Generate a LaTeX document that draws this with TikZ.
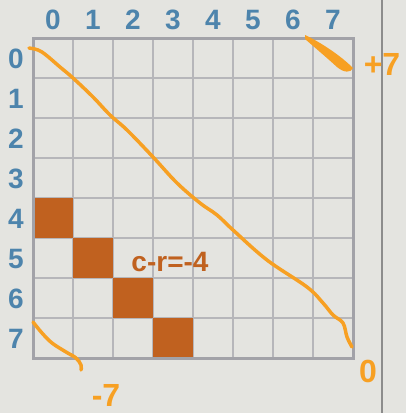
\documentclass[tikz,border=0pt]{standalone}
\usepackage{fontspec}
\setmainfont{Liberation Sans}
\definecolor{bg}{HTML}{E4E4E0}
\definecolor{gridc}{HTML}{B6B6BA}
\definecolor{borderc}{HTML}{A2A2A8}
\definecolor{lblue}{HTML}{4D84AC}
\definecolor{sqor}{HTML}{C0611F}
\definecolor{penor}{HTML}{F7A023}
\definecolor{rulec}{HTML}{8C8C8C}
\begin{document}
\begin{tikzpicture}[x=1pt,y=-1pt,
  lbl/.style={text=lblue,font=\fontsize{28}{28}\selectfont\bfseries,inner sep=0pt},
  hand/.style={text=penor,font=\fontsize{32}{32}\selectfont\bfseries,inner sep=0pt},
  pen/.style={draw=penor,line width=3.5pt,line cap=round,line join=round},
  gline/.style={draw=gridc,line width=1.5pt}]
\fill[bg] (0,0) rectangle (406,413);
\useasboundingbox (0,0) rectangle (406,413);
% grid
\foreach \k in {1,...,7}{
  \draw[gline] ({33+40*\k},38) -- ({33+40*\k},358);
  \draw[gline] (33,{38+40*\k}) -- (353,{38+40*\k});
}
\foreach \r/\c in {4/0,5/1,6/2,7/3}{
  \fill[sqor] ({33+40*\c},{38+40*\r}) rectangle ({73+40*\c},{78+40*\r});
}
\draw[borderc,line width=3pt] (33,38) rectangle (353,358);
% right rule
\draw[rulec,line width=1.5pt] (382,0) -- (382,413);
% labels
\foreach \i in {0,...,7}{
  \node[lbl] (col\i) at ({53+40*\i},20) {\i};
  \node[lbl] (row\i) at (16,{59+40*\i}) {\i};
}
\node[text=sqor,font=\fontsize{28}{28}\selectfont\bfseries,inner sep=0pt] (eq) at (170,262) {c-r=-4};
% orange pen strokes
\draw[pen] plot[smooth,tension=0.6] coordinates {(29,48) (38,50) (46,55) (60,67) (73,78) (93,97) (110,115) (127,130) (153,157) (177,183) (200,203) (217,215) (233,230) (267,260) (307,287) (323,303) (333,315) (343,323) (347,337) (352,347)};
\fill[penor] (305,35) .. controls (320,42) and (340,55) .. (353,68) .. controls (351,73) and (344,73) .. (337,67) .. controls (326,57) and (313,46) .. (305,39) -- cycle;
\draw[pen] plot[smooth,tension=0.6] coordinates {(33,322) (42,333) (52,343) (66,352) (76,358) (81,365) (81,370)};
\node[hand] (plus7) at (382,64) {+7};
\node[hand] (minus7) at (106,395) {-7};
\node[hand] (zero) at (368,371) {0};
\end{tikzpicture}
\end{document}
